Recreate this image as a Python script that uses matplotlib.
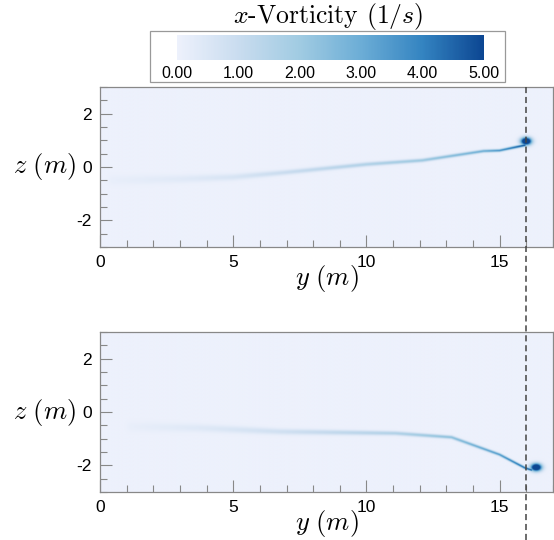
#!/usr/bin/env python3
"""Streamwise vorticity contours for two wake cases, sharing one colour bar."""

import numpy as np
import matplotlib
matplotlib.use("Agg")
from matplotlib import pyplot as plt
from matplotlib.colors import LinearSegmentedColormap
from matplotlib.lines import Line2D
from matplotlib.ticker import MultipleLocator

# Vortex core path: y (m), z (m), vorticity (1/s)
top_y = [0.5, 3.0, 5.0, 7.0, 10.0, 12.1, 14.4, 15.0, 15.95]
top_z = [-0.5, -0.45, -0.38, -0.2, 0.1, 0.25, 0.6, 0.62, 0.82]
top_w = [0.15, 0.35, 0.6, 1.0, 1.6, 2.1, 3.0, 3.7, 4.9]
top_blob = (16.0, 0.97, 5.0)

bot_y = [1.2, 3.7, 6.8, 11.1, 13.2, 15.0, 15.95, 16.2]
bot_z = [-0.55, -0.6, -0.74, -0.8, -0.95, -1.6, -2.1, -2.18]
bot_w = [0.15, 0.4, 0.8, 1.6, 2.4, 3.5, 4.5, 4.8]
bot_blob = (16.38, -2.08, 5.0)

# core radius (m) along the path, wide and diffuse upstream
top_r = [0.2, 0.15, 0.12, 0.09, 0.075, 0.065, 0.055, 0.05, 0.05]
bot_r = [0.2, 0.15, 0.11, 0.075, 0.06, 0.05, 0.045, 0.045]

cbar_ticks = [0, 1, 2, 3, 4, 5]
ref_y = 16.0

plt.rcParams["mathtext.fontset"] = "cm"
plt.rcParams["font.family"] = ["Liberation Sans", "DejaVu Sans"]

cmap = LinearSegmentedColormap.from_list(
    "vort", ["#edf1fc", "#c9dcef", "#a0cbe2", "#6cadd6", "#3484c1", "#0c4692"])

gy = np.linspace(0, 17, 1020)
gz = np.linspace(-3, 3, 360)
YY, ZZ = np.meshgrid(gy, gz)


def vortex_field(py, pz, pw, pr, blob):
    field = np.zeros_like(YY)
    for i in range(len(py) - 1):
        ay, az, by, bz = py[i], pz[i], py[i + 1], pz[i + 1]
        dy, dz = by - ay, bz - az
        t = ((YY - ay) * dy + (ZZ - az) * dz) / (dy * dy + dz * dz)
        t = np.clip(t, 0, 1)
        d = np.hypot(YY - (ay + t * dy), ZZ - (az + t * dz))
        w = pw[i] + t * (pw[i + 1] - pw[i])
        r = pr[i] + t * (pr[i + 1] - pr[i])
        field = np.maximum(field, w * np.exp(-(d / r) ** 2))
    cy, cz, cw = blob
    bl = cw * 1.6 * np.exp(-((YY - cy) / 0.2) ** 2 - ((ZZ - cz) / 0.14) ** 2)
    return np.maximum(field, np.minimum(bl, cw))


fig = plt.figure(figsize=(5.54, 5.40), dpi=100)
W, H = 554, 540

panels = [(top_y, top_z, top_w, top_r, top_blob, 87),
          (bot_y, bot_z, bot_w, bot_r, bot_blob, 332)]
for py, pz, pw, pr, blob, top_px in panels:
    ax = fig.add_axes([100 / W, (H - top_px - 160) / H, 453 / W, 160 / H])
    im = ax.imshow(vortex_field(py, pz, pw, pr, blob), cmap=cmap,
                   vmin=0, vmax=5, origin="lower", extent=[0, 17, -3, 3],
                   aspect="equal", interpolation="bilinear")
    ax.set_xlim(0, 17)
    ax.set_ylim(-3, 3)
    ax.set_xticks([0, 5, 10, 15])
    ax.set_yticks([-2, 0, 2])
    ax.set_yticklabels(["-2", "0", "2"])
    ax.xaxis.set_minor_locator(MultipleLocator(1))
    ax.yaxis.set_minor_locator(MultipleLocator(0.5))
    ax.tick_params(which="both", direction="in", color="#888888",
                   labelsize=12.5, top=False, right=False)
    ax.tick_params(which="major", length=8.5, width=0.8, pad=6)
    ax.tick_params(which="minor", length=5, width=0.8)
    for sp in ax.spines.values():
        sp.set_color("#888888")
        sp.set_linewidth(0.9)
    ax.set_xlabel(r"$y\ (m)$", fontsize=19, labelpad=-5)
    ax.set_ylabel(r"$z\ (m)$", fontsize=19, rotation=0,
                  va="center", ha="right")
    ax.yaxis.set_label_coords(-0.052, 0.5)

# dashed reference line through both panels
xr = (100 + ref_y * 453 / 17) / W
fig.add_artist(Line2D([xr, xr], [(H - 87) / H, 0], color="#444444",
                      lw=1.1, linestyle=(0, (4, 2.5))))

# colour bar in a framed box
box = plt.Rectangle((150 / W, (H - 82) / H), 355 / W, 51 / H,
                    transform=fig.transFigure, facecolor="white",
                    edgecolor="#999999", lw=0.9, zorder=-1)
fig.add_artist(box)
cax = fig.add_axes([177 / W, (H - 60) / H, 307 / W, 25 / H])
cb = fig.colorbar(im, cax=cax, orientation="horizontal", ticks=cbar_ticks)
cb.outline.set_visible(False)
cb.ax.set_xticklabels([f"{t:.2f}" for t in cbar_ticks])
cb.ax.tick_params(length=0, labelsize=11.5, pad=4)
fig.text(328 / W, (H - 17) / H, r"$x$-Vorticity $(1/s)$", ha="center",
         va="center", fontsize=18.5, family="cmr10")

fig.savefig("out.png", dpi=100)
